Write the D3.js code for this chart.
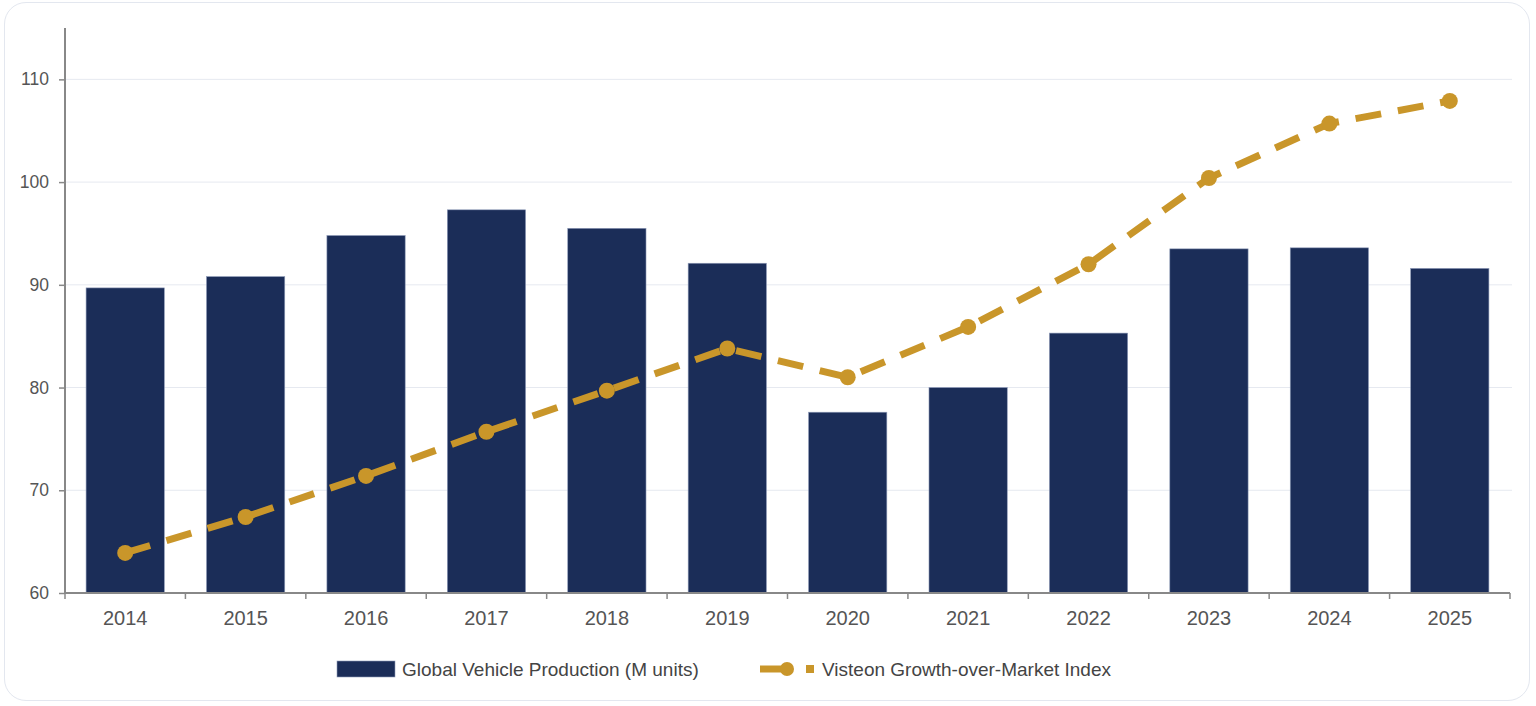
<!DOCTYPE html>
<html lang="en">
<head>
<meta charset="utf-8">
<title>Vehicle production vs Visteon index</title>
<script src="https://d3js.org/d3.v7.min.js"></script>
<style>
  html, body { margin: 0; padding: 0; background: #fff; }
  .card {
    position: absolute; left: 4px; top: 2px; width: 1526px; height: 699px;
    border: 1px solid #e3e7ef; border-radius: 22px; box-sizing: border-box;
  }
  .tick text { fill: #555; font-family: "Liberation Sans", Arial, sans-serif; }
  .legend text { font-family: "Liberation Sans", Arial, sans-serif; fill: #444; }
</style>
</head>
<body>
<div class="card"></div>
<svg id="chart" width="1536" height="706" style="position:absolute;left:0;top:0"></svg>
<script>
  // data
  var years = ["2014","2015","2016","2017","2018","2019","2020","2021","2022","2023","2024","2025"];
  var production = [89.7, 90.8, 94.8, 97.3, 95.5, 92.1, 77.6, 80.0, 85.3, 93.5, 93.6, 91.6];
  var gomIndex = [63.9, 67.4, 71.4, 75.7, 79.7, 83.8, 81.0, 85.9, 92.0, 100.4, 105.7, 107.9];
  var yTicks = [60, 70, 80, 90, 100, 110];
  var seriesNames = ["Global Vehicle Production (M units)", "Visteon Growth-over-Market Index"];

  var navy = "#1b2d58", gold = "#c9962a";

  var margin = { top: 28, left: 65, right: 26, bottom: 113 };
  var W = 1536, H = 706;
  var width = W - margin.left - margin.right,
      height = H - margin.top - margin.bottom;

  var svg = d3.select("#chart");
  var g = svg.append("g").attr("transform", "translate(" + margin.left + "," + margin.top + ")");

  var x = d3.scaleBand().domain(years).range([0, width]).paddingInner(0.35).paddingOuter(0.175);
  var xb = d3.scaleBand().domain(years).range([0, width]); // for tick positions at band edges
  var y = d3.scaleLinear().domain([60, 115]).range([height, 0]);

  // gridlines
  g.selectAll(".grid").data(yTicks.slice(1)).enter().append("line")
    .attr("x1", 0).attr("x2", width + 2)
    .attr("y1", function(d) { return y(d); }).attr("y2", function(d) { return y(d); })
    .attr("stroke", "#e6e9f0").attr("stroke-width", 1);

  // bars
  g.selectAll(".bar").data(production).enter().append("rect")
    .attr("x", function(d, i) { return x(years[i]); })
    .attr("width", x.bandwidth())
    .attr("y", function(d) { return y(d); })
    .attr("height", function(d) { return y(60) - y(d); })
    .attr("fill", navy)
    .attr("stroke", "#8f9bb8").attr("stroke-width", 0.6);

  // y axis
  var yAxis = g.append("g").call(d3.axisLeft(y).tickValues(yTicks).tickSize(6).tickPadding(10));
  yAxis.select(".domain").attr("stroke", "#888").attr("stroke-width", 2).attr("d", "M0," + height + "V0");
  yAxis.selectAll(".tick line").attr("stroke", "#888").attr("stroke-width", 1.5);
  yAxis.selectAll(".tick text").style("font-size", "17.5px");

  // x axis
  var xAxis = g.append("g").attr("transform", "translate(0," + height + ")")
    .call(d3.axisBottom(x).tickSize(0).tickPadding(18));
  xAxis.select(".domain").attr("stroke", "#888").attr("stroke-width", 2).attr("d", "M0,0H" + width);
  xAxis.selectAll(".tick text").style("font-size", "20px");
  g.append("g").selectAll("line").data(years.concat(["end"])).enter().append("line")
    .attr("x1", function(d, i) { return i * xb.bandwidth(); })
    .attr("x2", function(d, i) { return i * xb.bandwidth(); })
    .attr("y1", height).attr("y2", height + 6)
    .attr("stroke", "#888").attr("stroke-width", 1.5);

  // index line
  var line = d3.line()
    .x(function(d, i) { return x(years[i]) + x.bandwidth() / 2; })
    .y(function(d) { return y(d); });
  g.append("path").datum(gomIndex)
    .attr("d", line).attr("fill", "none")
    .attr("stroke", gold).attr("stroke-width", 7).attr("stroke-dasharray", "26,17");
  g.selectAll(".dot").data(gomIndex).enter().append("circle")
    .attr("cx", function(d, i) { return x(years[i]) + x.bandwidth() / 2; })
    .attr("cy", function(d) { return y(d); })
    .attr("r", 8).attr("fill", gold);

  // legend
  var leg = svg.append("g").attr("class", "legend");
  leg.append("rect").attr("x", 337).attr("y", 661).attr("width", 58).attr("height", 16)
    .attr("fill", navy).attr("stroke", "#8f9bb8").attr("stroke-width", 0.6);
  leg.append("text").attr("x", 402).attr("y", 676).style("font-size", "19px").text(seriesNames[0]);
  leg.append("line").attr("x1", 760).attr("x2", 786).attr("y1", 669).attr("y2", 669)
    .attr("stroke", gold).attr("stroke-width", 7);
  leg.append("circle").attr("cx", 787).attr("cy", 669).attr("r", 7).attr("fill", gold);
  leg.append("rect").attr("x", 806).attr("y", 665).attr("width", 8).attr("height", 8).attr("fill", gold);
  leg.append("text").attr("x", 822).attr("y", 676).style("font-size", "19px").text(seriesNames[1]);
</script>
</body>
</html>
